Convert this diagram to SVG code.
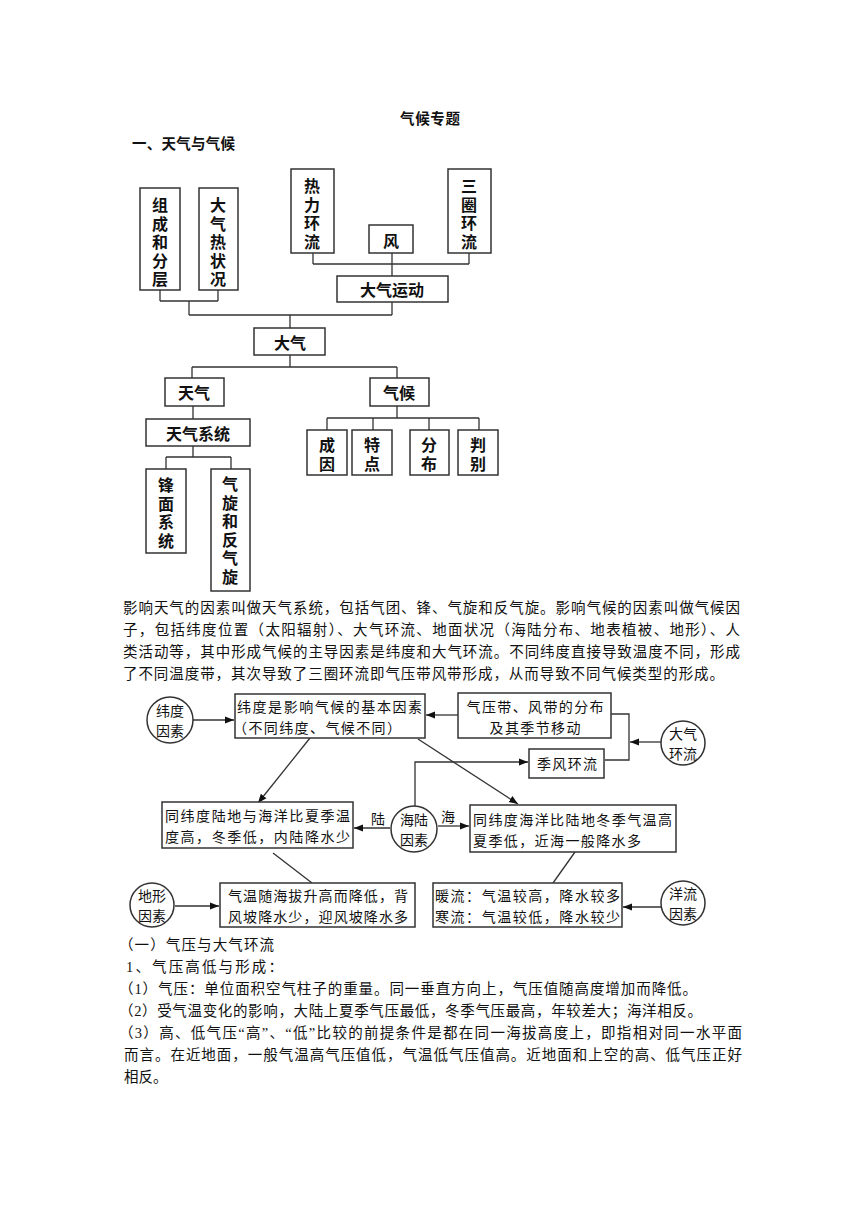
<svg xmlns="http://www.w3.org/2000/svg" width="860" height="1216" viewBox="0 0 860 1216">
<style>
.bx{fill:#fff;stroke:#333;stroke-width:1.5}
.ln{fill:none;stroke:#333;stroke-width:1.3}
.tb{font-family:"Noto Sans CJK SC","Noto Sans CJK JP",sans-serif;font-size:16px;font-weight:bold;fill:#111;text-anchor:middle;dominant-baseline:central}
.tv{font-family:"Noto Sans CJK SC","Noto Sans CJK JP",sans-serif;font-size:16px;font-weight:bold;fill:#111;writing-mode:vertical-rl;letter-spacing:2.5px}
.t2{font-family:"Noto Sans CJK SC","Noto Sans CJK JP",sans-serif;font-size:14px;fill:#111;dominant-baseline:central}
.c2{text-anchor:middle}
.p{font-family:"Liberation Serif","Noto Sans CJK SC",serif;font-size:14.5px;fill:#111;dominant-baseline:central}
.h{font-family:"Noto Sans CJK SC",sans-serif;font-size:14.5px;font-weight:bold;fill:#111;dominant-baseline:central}
</style>
<defs>
<marker id="ar" viewBox="0 0 10 10" refX="10" refY="5" markerWidth="9" markerHeight="9" markerUnits="userSpaceOnUse" orient="auto">
<path d="M0,1 L10,5 L0,9 z" fill="#111"/>
</marker>
</defs>
<rect width="860" height="1216" fill="#fff"/>

<text class="h" x="400" y="117" textLength="60" lengthAdjust="spacing">气候专题</text>
<text class="h" x="132" y="142" textLength="103" lengthAdjust="spacing">一、天气与气候</text>

<g id="tree-connectors" class="ln">
<path d="M313,253 V264 M469,253 V264 M313,264 H469 M392,253 V276"/>
<path d="M160,290 V301 M218,290 V301 M160,301 H218 M189,301 V315 M392,302 V315 M189,315 H392 M290,315 V328"/>
<path d="M290,355 V367 M192,367 H397 M192,367 V378 M397,367 V378"/>
<path d="M193,406 V419 M193,446 V457 M166,457 H231 M166,457 V469 M231,457 V469"/>
<path d="M397,406 V418 M327,418 H479 M327,418 V430 M373,418 V430 M429,418 V430 M479,418 V430"/>
</g>

<g id="n-zucheng"><rect class="bx" x="140" y="188" width="40" height="102"/>
<text class="tv" x="160" y="197">组成和分层</text></g>
<g id="n-reztk"><rect class="bx" x="199" y="188" width="39" height="102"/>
<text class="tv" x="218" y="197">大气热状况</text></g>
<g id="n-relihl"><rect class="bx" x="291" y="169" width="43" height="84"/>
<text class="tv" x="312" y="178">热力环流</text></g>
<g id="n-feng"><rect class="bx" x="369" y="225" width="44" height="28"/>
<text class="tb" x="391" y="240">风</text></g>
<g id="n-sanquan"><rect class="bx" x="448" y="169" width="43" height="84"/>
<text class="tv" x="469" y="178">三圈环流</text></g>
<g id="n-dqyd"><rect class="bx" x="337" y="276" width="111" height="26"/>
<text class="tb" x="392" y="289">大气运动</text></g>
<g id="n-daqi"><rect class="bx" x="254" y="328" width="71" height="27"/>
<text class="tb" x="290" y="342">大气</text></g>
<g id="n-tianqi"><rect class="bx" x="165" y="378" width="59" height="28"/>
<text class="tb" x="194" y="392">天气</text></g>
<g id="n-qihou"><rect class="bx" x="370" y="378" width="59" height="28"/>
<text class="tb" x="399" y="392">气候</text></g>
<g id="n-tqxt"><rect class="bx" x="146" y="419" width="104" height="27"/>
<text class="tb" x="198" y="433">天气系统</text></g>
<g id="n-fengmian"><rect class="bx" x="146" y="469" width="40" height="84"/>
<text class="tv" x="166" y="477">锋面系统</text></g>
<g id="n-qixuan"><rect class="bx" x="211" y="469" width="39" height="122"/>
<text class="tv" x="230" y="476">气旋和反气旋</text></g>
<g id="n-chengyin"><rect class="bx" x="307" y="430" width="40" height="45"/>
<text class="tv" x="327" y="437">成因</text></g>
<g id="n-tedian"><rect class="bx" x="352" y="430" width="40" height="45"/>
<text class="tv" x="372" y="437">特点</text></g>
<g id="n-fenbu"><rect class="bx" x="410" y="430" width="39" height="45"/>
<text class="tv" x="429" y="437">分布</text></g>
<g id="n-panbie"><rect class="bx" x="458" y="430" width="40" height="45"/>
<text class="tv" x="478" y="437">判别</text></g>

<g id="para1">
<text class="p" x="123" y="608" textLength="617" lengthAdjust="spacing">影响天气的因素叫做天气系统，包括气团、锋、气旋和反气旋。影响气候的因素叫做气候因</text>
<text class="p" x="123" y="630" textLength="617" lengthAdjust="spacing">子，包括纬度位置（太阳辐射）、大气环流、地面状况（海陆分布、地表植被、地形）、人</text>
<text class="p" x="123" y="652" textLength="617" lengthAdjust="spacing">类活动等，其中形成气候的主导因素是纬度和大气环流。不同纬度直接导致温度不同，形成</text>
<text class="p" x="123" y="674" textLength="601" lengthAdjust="spacing">了不同温度带，其次导致了三圈环流即气压带风带形成，从而导致不同气候类型的形成。</text>
</g>

<g id="connectors2" class="ln">
<line x1="193" y1="720" x2="234" y2="720" marker-end="url(#ar)"/>
<line x1="458" y1="715" x2="426" y2="715" marker-end="url(#ar)"/>
<path d="M611,714 H629 V760 H605"/>
<line x1="661" y1="742" x2="630" y2="742" marker-end="url(#ar)"/>
<path d="M415,806 V762 H528" marker-end="url(#ar)"/>
<line x1="310" y1="738" x2="258" y2="803" marker-end="url(#ar)"/>
<line x1="418" y1="739" x2="518" y2="804" marker-end="url(#ar)"/>
<line x1="390" y1="828" x2="354" y2="828" marker-end="url(#ar)"/>
<line x1="438" y1="826" x2="469" y2="826" marker-end="url(#ar)"/>
<line x1="273" y1="853" x2="312" y2="883"/>
<line x1="575" y1="852" x2="553" y2="883"/>
<line x1="175" y1="906" x2="219" y2="906" marker-end="url(#ar)"/>
<line x1="661" y1="907" x2="623" y2="907" marker-end="url(#ar)"/>
<text class="t2" x="371" y="818" stroke="none" fill="#111">陆</text>
<text class="t2" x="441" y="816" stroke="none" fill="#111">海</text>
</g>

<g id="c-weidu"><circle class="bx" cx="170" cy="720" r="23"/>
<text class="t2 c2" x="170" y="710">纬度</text><text class="t2 c2" x="170" y="730">因素</text></g>
<g id="b-weidu"><rect class="bx" x="235" y="694" width="190" height="44"/>
<text class="t2" x="237" y="706" textLength="185" lengthAdjust="spacing">纬度是影响气候的基本因素</text>
<text class="t2" x="233" y="727" textLength="168" lengthAdjust="spacing">（不同纬度、气候不同）</text></g>
<g id="b-qiya"><rect class="bx" x="458" y="693" width="153" height="45"/>
<text class="t2 c2" x="535" y="706" textLength="137" lengthAdjust="spacing">气压带、风带的分布</text>
<text class="t2 c2" x="535" y="727" textLength="91" lengthAdjust="spacing">及其季节移动</text></g>
<g id="c-dqhl"><circle class="bx" cx="683" cy="743" r="22"/>
<text class="t2 c2" x="683" y="733">大气</text><text class="t2 c2" x="683" y="753">环流</text></g>
<g id="b-jifeng"><rect class="bx" x="529" y="749" width="75" height="29"/>
<text class="t2 c2" x="567" y="763" textLength="60" lengthAdjust="spacing">季风环流</text></g>
<g id="c-hailu"><circle class="bx" cx="414" cy="829" r="23"/>
<text class="t2 c2" x="414" y="819">海陆</text><text class="t2 c2" x="414" y="839">因素</text></g>
<g id="b-ludi"><rect class="bx" x="162" y="802" width="191" height="46"/>
<text class="t2" x="165" y="815" textLength="185" lengthAdjust="spacing">同纬度陆地与海洋比夏季温</text>
<text class="t2" x="165" y="836" textLength="185" lengthAdjust="spacing">度高，冬季低，内陆降水少</text></g>
<g id="b-haiyang"><rect class="bx" x="470" y="805" width="206" height="47"/>
<text class="t2" x="473" y="819" textLength="199" lengthAdjust="spacing">同纬度海洋比陆地冬季气温高</text>
<text class="t2" x="473" y="840" textLength="168" lengthAdjust="spacing">夏季低，近海一般降水多</text></g>
<g id="c-dixing"><circle class="bx" cx="152" cy="905" r="22"/>
<text class="t2 c2" x="152" y="895">地形</text><text class="t2 c2" x="152" y="915">因素</text></g>
<g id="b-qiwen"><rect class="bx" x="220" y="883" width="195" height="44"/>
<text class="t2" x="228" y="895" textLength="180" lengthAdjust="spacing">气温随海拔升高而降低，背</text>
<text class="t2" x="228" y="916" textLength="180" lengthAdjust="spacing">风坡降水少，迎风坡降水多</text></g>
<g id="b-yangliu"><rect class="bx" x="433" y="883" width="189" height="44"/>
<text class="t2" x="435" y="895" textLength="185" lengthAdjust="spacing">暖流：气温较高，降水较多</text>
<text class="t2" x="435" y="916" textLength="185" lengthAdjust="spacing">寒流：气温较低，降水较少</text></g>
<g id="c-yangliu"><circle class="bx" cx="683" cy="903" r="22"/>
<text class="t2 c2" x="683" y="893">洋流</text><text class="t2 c2" x="683" y="913">因素</text></g>

<g id="para2">
<text class="p" x="119" y="945" textLength="155" lengthAdjust="spacing">（一）气压与大气环流</text>
<text class="p" x="126" y="967" textLength="157" lengthAdjust="spacing">1、气压高低与形成：</text>
<text class="p" x="119" y="989" textLength="578" lengthAdjust="spacing">（1）气压：单位面积空气柱子的重量。同一垂直方向上，气压值随高度增加而降低。</text>
<text class="p" x="119" y="1011" textLength="583" lengthAdjust="spacing">（2）受气温变化的影响，大陆上夏季气压最低，冬季气压最高，年较差大；海洋相反。</text>
<text class="p" x="119" y="1033" textLength="623" lengthAdjust="spacing">（3）高、低气压“高”、“低”比较的前提条件是都在同一海拔高度上，即指相对同一水平面</text>
<text class="p" x="124" y="1055" textLength="618" lengthAdjust="spacing">而言。在近地面，一般气温高气压值低，气温低气压值高。近地面和上空的高、低气压正好</text>
<text class="p" x="124" y="1077">相反。</text>
</g>
</svg>
